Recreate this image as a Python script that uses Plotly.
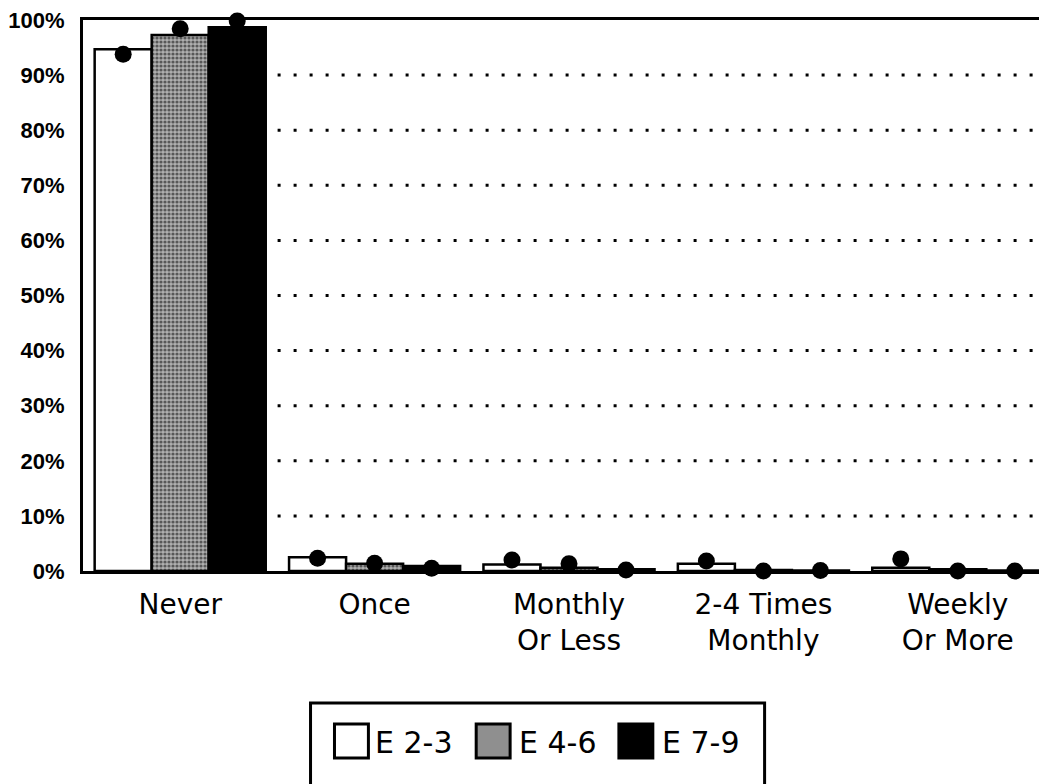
import plotly.graph_objects as go

# ---------------- data ----------------
categories = ["Never", "Once", "Monthly<br>Or Less", "2-4 Times<br>Monthly", "Weekly<br>Or More"]
series_names = ["E 2-3", "E 4-6", "E 7-9"]

bars_e23 = [94.7, 2.5, 1.2, 1.3, 0.6]
bars_e46 = [97.3, 1.3, 0.6, 0.2, 0.3]
bars_e79 = [98.7, 0.9, 0.3, 0.1, 0.1]

dots_e23 = [93.8, 2.3, 2.0, 1.8, 2.2]
dots_e46 = [98.4, 1.4, 1.3, 0.0, 0.0]
dots_e79 = [99.8, 0.5, 0.2, 0.1, 0.0]

y_tickvals = [0, 10, 20, 30, 40, 50, 60, 70, 80, 90, 100]
y_ticktext = ["0%", "10%", "20%", "30%", "40%", "50%", "60%", "70%", "80%", "90%", "100%"]
grid_vals = [10, 20, 30, 40, 50, 60, 70, 80, 90]

# ---------------- layout geometry (pixels) ----------------
W, H = 1047, 784
OFF = 7  # page body offset of the rendered figure
ML, MR, MT, MB = 80 - OFF, 0, 19 - OFF, H - (570 - OFF)
PW, PH = W - ML - MR, H - MT - MB


def px_x(x):
    # screen pixel -> paper x
    return (x - OFF - ML) / PW


def px_y(y):
    # screen pixel -> paper y
    return (H - MB - (y - OFF)) / PH


fig = go.Figure()

bar_styles = [
    dict(color="white", line=dict(color="black", width=2.5)),
    dict(color="#8a8a8a", line=dict(color="black", width=2.5),
         pattern=dict(shape=".", fgcolor="black", bgcolor="#b0b0b0", size=4, solidity=0.5)),
    dict(color="black", line=dict(color="black", width=2.5)),
]

for name, vals, st in zip(series_names, [bars_e23, bars_e46, bars_e79], bar_styles):
    fig.add_trace(go.Bar(x=categories, y=vals, name=name, marker=st, showlegend=False))

for name, vals in zip(series_names, [dots_e23, dots_e46, dots_e79]):
    fig.add_trace(go.Scatter(x=categories, y=vals, name=name + " (dot)", mode="markers",
                             marker=dict(color="black", size=17, line=dict(width=0)),
                             cliponaxis=False, showlegend=False))

shapes = []
# dotted gridlines (start right of the "Never" group)
for g in grid_vals:
    shapes.append(dict(type="line", xref="paper", yref="y", x0=px_x(275), x1=1.0, y0=g, y1=g,
                       line=dict(color="black", width=3, dash="3px,13px"), layer="below"))

# legend box and symbols
shapes.append(dict(type="rect", xref="paper", yref="paper",
                   x0=px_x(308), x1=px_x(763), y0=px_y(702), y1=px_y(820),
                   line=dict(color="black", width=3), fillcolor="rgba(0,0,0,0)"))
sym_x = [332, 474, 617]
sym_fill = ["white", "#8f8f8f", "black"]
for sx, fc in zip(sym_x, sym_fill):
    shapes.append(dict(type="rect", xref="paper", yref="paper",
                       x0=px_x(sx), x1=px_x(sx + 34), y0=px_y(723), y1=px_y(757),
                       line=dict(color="black", width=3), fillcolor=fc))

annotations = []
text_x = [371, 515, 658]
for tx, name in zip(text_x, series_names):
    annotations.append(dict(xref="paper", yref="paper", x=px_x(tx), y=px_y(741),
                            xanchor="left", yanchor="middle", showarrow=False, text=name,
                            font=dict(family="DejaVu Sans", size=30, color="black")))

fig.update_layout(
    width=W, height=H,
    margin=dict(l=ML, r=MR, t=MT, b=MB),
    paper_bgcolor="white", plot_bgcolor="white",
    barmode="group", bargap=0.12, bargroupgap=0,
    scattermode="group", scattergap=0.12,
    shapes=shapes, annotations=annotations,
    showlegend=False,
)

fig.update_xaxes(
    range=[-0.5, 4.5],
    showline=True, linecolor="black", linewidth=3, mirror=True,
    showgrid=False, ticks="", zeroline=False,
    tickfont=dict(family="DejaVu Sans", size=28, color="black"),
    ticklabelstandoff=6,
)
fig.update_yaxes(
    range=[0, 100],
    tickvals=y_tickvals, ticktext=y_ticktext,
    showline=True, linecolor="black", linewidth=3,
    showgrid=False, ticks="", zeroline=False,
    tickfont=dict(family="Liberation Sans", size=22, color="black", weight="bold"),
    ticklabelstandoff=11,
    ticklabeloverflow="allow",
)

fig.write_html("out.html")
